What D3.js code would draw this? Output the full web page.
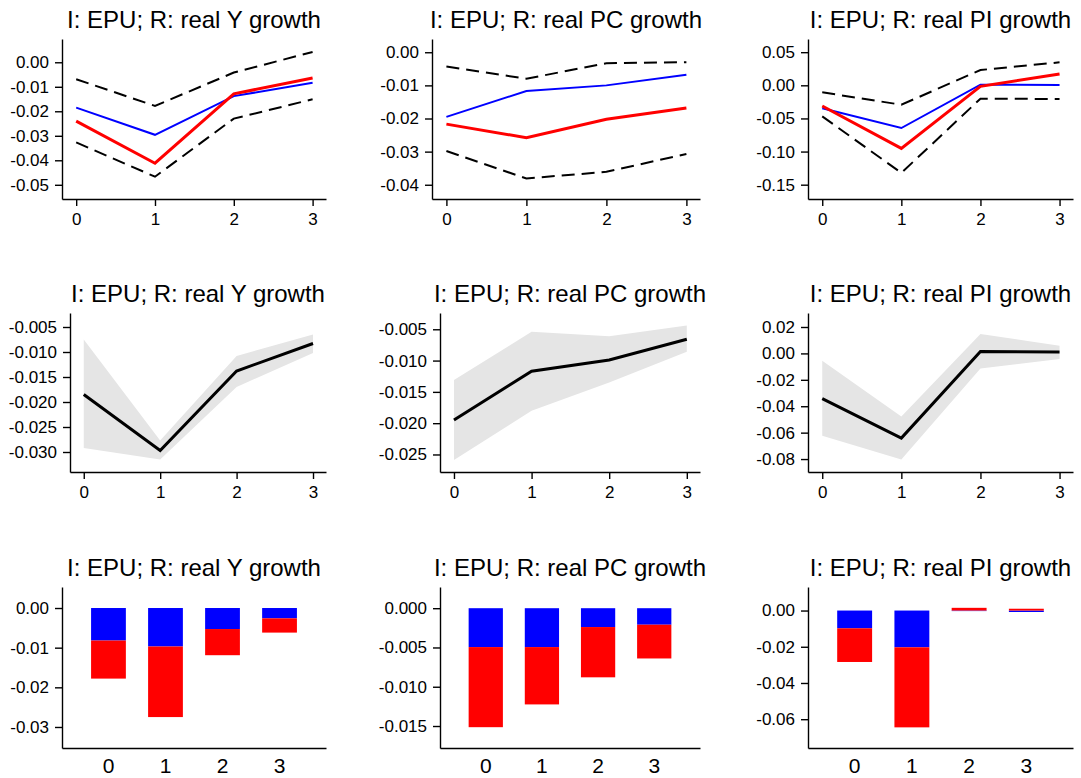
<!DOCTYPE html>
<html>
<head>
<meta charset="utf-8">
<script src="https://cdn.jsdelivr.net/npm/d3@7"></script>
<style>
  body { margin: 0; background: #fff; }
  svg text { font-family: "Liberation Sans", Arial, sans-serif; fill: #000; }
</style>
</head>
<body>
<svg id="chart" width="1081" height="778"></svg>
<script>
const horizons = [0, 1, 2, 3];
const titles = [
  "I: EPU; R: real Y growth",
  "I: EPU; R: real PC growth",
  "I: EPU; R: real PI growth",
];

// row 1: point responses (red, blue) with dashed bounds
const yRed = [-0.024, -0.0412, -0.0129, -0.0064];
const yBlue = [-0.0185, -0.0296, -0.0138, -0.0084];
const yUpper = [-0.0069, -0.0178, -0.0042, 0.0042];
const yLower = [-0.0327, -0.0467, -0.023, -0.0151];

const pcRed = [-0.0217, -0.0258, -0.0202, -0.0168];
const pcBlue = [-0.0195, -0.0117, -0.01, -0.0068];
const pcUpper = [-0.0043, -0.008, -0.0033, -0.003];
const pcLower = [-0.0298, -0.0381, -0.0361, -0.0307];

const piRed = [-0.0313, -0.0952, -0.0015, 0.0171];
const piBlue = [-0.0347, -0.0645, 0.001, 0.0005];
const piUpper = [-0.0106, -0.0293, 0.0231, 0.0347];
const piLower = [-0.0468, -0.1322, -0.0202, -0.0206];

// row 2: median with shaded band
const yMedian = [-0.0185, -0.0297, -0.0138, -0.0083];
const yBandHi = [-0.0075, -0.0277, -0.0108, -0.0065];
const yBandLo = [-0.0292, -0.0315, -0.017, -0.0102];

const pcMedian = [-0.0195, -0.0117, -0.0099, -0.0066];
const pcBandHi = [-0.0131, -0.0054, -0.0061, -0.0044];
const pcBandLo = [-0.0259, -0.018, -0.0135, -0.0086];

const piMedian = [-0.0343, -0.0641, 0.0015, 0.001];
const piBandHi = [-0.0055, -0.0477, 0.0147, 0.0058];
const piBandLo = [-0.0623, -0.0803, -0.0114, -0.0042];

// row 3: decomposition bars (blue part, red part)
const yBarBlue = [-0.0082, -0.0097, -0.0053, -0.0026];
const yBarRed = [-0.0096, -0.0178, -0.0066, -0.0036];
const pcBarBlue = [-0.00495, -0.00495, -0.0024, -0.0021];
const pcBarRed = [-0.0102, -0.0073, -0.0064, -0.0043];
const piBarBlue = [-0.0098, -0.0203, -0.0003, -0.0008];
const piBarRed = [-0.0186, -0.0442, 0.0015, 0.001];

// y tick values per row / column
const row1Ticks = [
  [0, -0.01, -0.02, -0.03, -0.04, -0.05],
  [0, -0.01, -0.02, -0.03, -0.04],
  [0.05, 0, -0.05, -0.1, -0.15],
];
const row2Ticks = [
  [-0.005, -0.01, -0.015, -0.02, -0.025, -0.03],
  [-0.005, -0.01, -0.015, -0.02, -0.025],
  [0.02, 0, -0.02, -0.04, -0.06, -0.08],
];
const row3Ticks = [
  [0, -0.01, -0.02, -0.03],
  [0, -0.005, -0.01, -0.015],
  [0, -0.02, -0.04, -0.06],
];
const row1Digits = [2, 2, 2];
const row2Digits = [3, 3, 2];
const row3Digits = [2, 3, 2];

// scale settings
const row1Domains = [[-0.0558, 0.0095], [-0.0443, 0.004], [-0.1716, 0.0699]];
const row2Domains = [[-0.034, -0.0022], [-0.0278, -0.0024], [-0.0898, 0.0306]];
const row3Domains = [[-0.0353, 0.0053], [-0.0178, 0.0027], [-0.0759, 0.013]];

const svg = d3.select("#chart");
const rights = [326, 700, 1073];
const rows = [
  { top: 39, bottom: 199, lefts: [62, 432, 808] },
  { top: 313, bottom: 472, lefts: [70, 440, 808] },
  { top: 587, bottom: 748, lefts: [62, 440, 808] },
];

function yAxis(g, y, ticks, digits) {
  g.call(
    d3.axisLeft(y)
      .tickValues(ticks)
      .tickSize(7)
      .tickSizeOuter(0)
      .tickPadding(6)
      .tickFormat((d) => (Math.abs(d) < 1e-9 ? 0 : d).toFixed(digits))
  );
  styleAxis(g, 17);
}

function styleAxis(g, size) {
  g.select(".domain").attr("stroke", "#000").attr("stroke-width", 1.4);
  g.selectAll(".tick line").attr("stroke", "#000").attr("stroke-width", 1.4);
  g.selectAll(".tick text")
    .attr("font-size", size)
    .attr("font-family", '"Liberation Sans", Arial, sans-serif')
    .attr("fill", "#000");
}

function frame(row, col) {
  const r = rows[row];
  const left = r.lefts[col];
  const right = rights[col];
  svg.append("text")
    .attr("x", (left + right) / 2)
    .attr("y", r.top - 11)
    .attr("text-anchor", "middle")
    .attr("font-size", 24)
    .text(titles[col]);
  return { left, right, top: r.top, bottom: r.bottom };
}

function linePanel(f, domain, ticks, digits) {
  const x = d3.scaleLinear().domain([-0.18, 3.17]).range([f.left, f.right]);
  const y = d3.scaleLinear().domain(domain).range([f.bottom, f.top]);
  const g = svg.append("g");
  g.append("g")
    .attr("transform", `translate(0, ${f.bottom})`)
    .call(d3.axisBottom(x).tickValues(horizons).tickSize(7).tickSizeOuter(0).tickPadding(7).tickFormat(d3.format("d")))
    .call((a) => styleAxis(a, 17));
  g.append("g")
    .attr("transform", `translate(${f.left}, 0)`)
    .call((a) => yAxis(a, y, ticks, digits));
  return { g, x, y };
}

function drawLines(col, red, blue, upper, lower) {
  const f = frame(0, col);
  const { g, x, y } = linePanel(f, row1Domains[col], row1Ticks[col], row1Digits[col]);
  const line = d3.line().x((d, i) => x(horizons[i])).y((d) => y(d));
  g.append("path").datum(upper).attr("d", line).attr("fill", "none")
    .attr("stroke", "#000").attr("stroke-width", 2).attr("stroke-dasharray", "13,7");
  g.append("path").datum(lower).attr("d", line).attr("fill", "none")
    .attr("stroke", "#000").attr("stroke-width", 2).attr("stroke-dasharray", "13,7");
  g.append("path").datum(blue).attr("d", line).attr("fill", "none")
    .attr("stroke", "#0000ff").attr("stroke-width", 2);
  g.append("path").datum(red).attr("d", line).attr("fill", "none")
    .attr("stroke", "#ff0000").attr("stroke-width", 3);
}

function drawBand(col, median, hi, lo) {
  const f = frame(1, col);
  const { g, x, y } = linePanel(f, row2Domains[col], row2Ticks[col], row2Digits[col]);
  const area = d3.area()
    .x((d, i) => x(horizons[i]))
    .y0((d, i) => y(lo[i]))
    .y1((d, i) => y(hi[i]));
  g.insert("path", ":first-child").datum(median).attr("d", area).attr("fill", "#e5e5e5");
  const line = d3.line().x((d, i) => x(horizons[i])).y((d) => y(d));
  g.append("path").datum(median).attr("d", line).attr("fill", "none")
    .attr("stroke", "#000").attr("stroke-width", 3);
}

function drawBars(col, blue, red) {
  const f = frame(2, col);
  const x = d3.scaleBand().domain(horizons).range([f.left, f.right])
    .paddingInner(0.39).paddingOuter(0.51);
  const y = d3.scaleLinear().domain(row3Domains[col]).range([f.bottom, f.top]);
  const table = horizons.map((h, i) => ({ h, blue: blue[i], red: red[i] }));
  const series = d3.stack().keys(["blue", "red"]).offset(d3.stackOffsetDiverging)(table);
  const colors = { blue: "#0000ff", red: "#ff0000" };
  const g = svg.append("g");
  g.selectAll("g.layer")
    .data(series)
    .join("g")
    .attr("fill", (s) => colors[s.key])
    .selectAll("rect")
    .data((s) => s)
    .join("rect")
    .attr("x", (d) => x(d.data.h))
    .attr("width", x.bandwidth())
    .attr("y", (d) => y(Math.max(d[0], d[1])))
    .attr("height", (d) => Math.abs(y(d[0]) - y(d[1])));
  g.append("g")
    .attr("transform", `translate(0, ${f.bottom})`)
    .call(d3.axisBottom(x).tickSize(0).tickSizeOuter(0).tickPadding(10))
    .call((a) => styleAxis(a, 21));
  g.append("g")
    .attr("transform", `translate(${f.left}, 0)`)
    .call((a) => yAxis(a, y, row3Ticks[col], row3Digits[col]));
}

drawLines(0, yRed, yBlue, yUpper, yLower);
drawLines(1, pcRed, pcBlue, pcUpper, pcLower);
drawLines(2, piRed, piBlue, piUpper, piLower);

drawBand(0, yMedian, yBandHi, yBandLo);
drawBand(1, pcMedian, pcBandHi, pcBandLo);
drawBand(2, piMedian, piBandHi, piBandLo);

drawBars(0, yBarBlue, yBarRed);
drawBars(1, pcBarBlue, pcBarRed);
drawBars(2, piBarBlue, piBarRed);
</script>
</body>
</html>
